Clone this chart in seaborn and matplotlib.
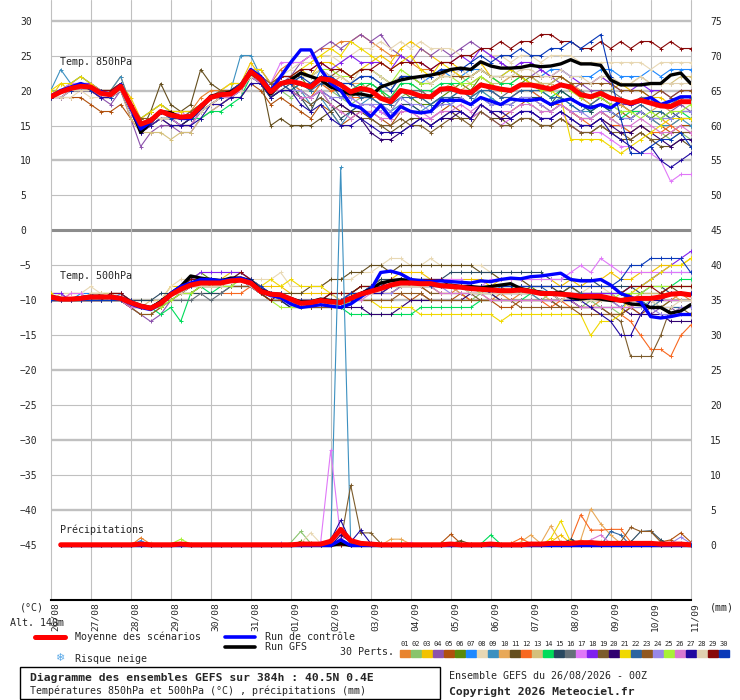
import numpy as np
import pandas as pd
import matplotlib
matplotlib.use("Agg")
import matplotlib.pyplot as plt
from matplotlib.patches import Rectangle
from matplotlib.lines import Line2D
import seaborn as sns

hours_t = list(range(0, 385, 6))   # temperatures 0h..384h
hours_p = list(range(6, 385, 6))   # precipitation starts at +6h
day_hours = list(range(0, 385, 24))
day_labels = ["26/08", "27/08", "28/08", "29/08", "30/08", "31/08", "01/09", "02/09", "03/09",
              "04/09", "05/09", "06/09", "07/09", "08/09", "09/09", "10/09", "11/09"]

member_ids = ["%02d" % k for k in range(1, 31)]
member_colors = ["#e8832e", "#88c46c", "#f2c200", "#8c52ac", "#b0500c", "#5a8a0a", "#1e88ff", "#e8d8b4",
                 "#3c90c0", "#e8a858", "#644e1e", "#f86820", "#d4c07c", "#00dc5a", "#284860", "#647078",
                 "#e078f8", "#8020f0", "#7c5c2c", "#300070", "#f0d800", "#2c64a0", "#905820", "#9888e8",
                 "#a8f038", "#d878d0", "#2008a0", "#e0d0b0", "#880808", "#0838b8"]

# 850 hPa (degC)
t850_mean = [19.1, 19.8, 20.3, 20.6, 20.5, 19.6, 19.4, 20.6, 17.9, 15.2, 15.7, 17.0, 16.5, 16.2, 16.3, 17.7,
             19.0, 19.4, 19.5, 20.5, 22.7, 21.6, 19.8, 21.0, 21.3, 21.0, 20.5, 21.7, 21.5, 20.8, 19.8, 20.3,
             20.0, 18.9, 18.4, 20.0, 19.7, 19.2, 19.1, 20.2, 20.3, 19.8, 19.7, 20.8, 20.5, 20.2, 20.0, 20.8,
             20.8, 20.5, 20.2, 20.8, 20.5, 19.4, 19.1, 19.6, 18.9, 18.6, 18.2, 18.6, 18.2, 17.8, 17.7, 18.4, 18.4]
t850_ctrl = [19.2, 20.0, 20.5, 21.0, 20.5, 19.8, 19.5, 20.8, 17.5, 14.5, 15.5, 17.0, 16.5, 16.0, 16.0, 17.5,
             19.0, 19.5, 19.5, 20.5, 23.0, 22.0, 20.0, 22.0, 24.0, 25.8, 25.8, 23.0, 21.0, 20.0, 18.0, 17.5,
             16.3, 17.9, 16.1, 17.7, 17.0, 16.8, 17.0, 18.6, 18.6, 18.6, 18.0, 19.0, 18.5, 18.0, 18.8, 18.6,
             18.6, 18.8, 18.0, 18.5, 18.8, 18.0, 17.5, 18.0, 17.5, 18.5, 18.0, 18.5, 19.0, 18.0, 18.5, 19.1, 19.1]
t850_gfs = [19.0, 19.8, 20.3, 20.8, 20.5, 19.6, 19.4, 20.6, 17.8, 14.0, 15.5, 17.0, 16.8, 16.2, 16.0, 17.5,
            19.2, 19.5, 19.8, 20.5, 22.5, 21.5, 19.5, 21.0, 21.5, 22.5, 22.0, 21.5, 20.5, 20.0, 19.5, 19.5,
            19.2, 20.5, 21.0, 21.5, 21.8, 22.0, 22.2, 22.5, 23.0, 23.2, 23.0, 24.1, 23.5, 23.2, 23.2, 23.3,
            23.6, 23.4, 23.5, 23.8, 24.4, 23.8, 23.8, 23.6, 21.5, 20.8, 20.8, 20.8, 21.0, 21.0, 22.2, 22.5, 21.0]
t850_members = [
    [19,20,21,21,21,20,20,22, 18,15,16,17,17,17,17,19, 20,20,21,21,23,22,21,23, 24,24,25,26,26,27,27,28, 27,26,25,25,24,23,23,22, 23,22,22,23,22,21,22,22, 21,20,21,22,21,20,19,19, 18,18,17,17,16,16,15,16, 16],
    [20,20,21,22,21,20,19,20, 17,14,15,16,16,15,16,17, 18,19,20,20,22,21,19,20, 19,20,19,21,20,19,18,19, 19,18,17,19,20,19,18,19, 19,20,19,20,19,18,18,19, 18,17,17,18,17,16,16,17, 16,15,14,15,14,14,13,14, 13],
    [19,21,20,21,21,20,20,21, 19,16,17,18,17,17,17,18, 19,20,20,21,24,22,21,22, 22,23,22,24,24,23,22,23, 24,25,24,26,27,26,25,24, 24,23,23,24,22,21,21,22, 21,21,20,21,20,19,19,20, 20,21,20,20,19,19,18,19, 19],
    [19,19,20,20,20,19,18,20, 16,12,14,15,15,14,14,16, 17,18,19,20,22,21,19,21, 22,24,25,26,27,26,27,28, 27,28,26,25,24,26,25,26, 25,26,27,26,25,24,23,22, 22,23,22,21,20,21,20,20, 19,18,18,19,19,18,17,18, 17],
    [19,19,19,19,18,17,17,18, 16,14,15,16,15,15,15,17, 18,18,19,19,21,20,18,19, 18,17,16,18,17,15,16,17, 17,16,15,17,17,16,16,17, 18,17,16,18,17,16,17,18, 19,18,17,18,17,16,16,17, 16,17,16,17,16,15,14,15, 15],
    [19,20,20,20,20,20,19,20, 17,15,16,17,16,16,16,17, 19,19,20,20,22,22,20,21, 21,22,20,22,21,20,19,20, 21,20,18,20,19,18,18,19, 20,21,20,22,21,20,20,21, 22,21,21,22,21,19,18,19, 18,18,17,17,16,17,16,17, 17],
    [19,20,21,21,21,20,20,21, 18,15,16,17,17,16,17,18, 19,20,20,21,23,22,20,22, 22,21,20,23,22,21,21,22, 22,21,20,22,22,21,22,23, 22,22,23,23,22,22,23,22, 22,22,23,23,22,22,22,23, 23,22,22,22,23,22,23,23, 23],
    [19,19,19,20,19,19,19,20, 17,15,16,17,16,16,16,18, 19,20,21,21,23,23,21,22, 23,24,24,25,25,24,25,26, 26,27,26,27,26,27,26,26, 26,25,25,26,25,25,24,25, 25,24,25,25,25,24,24,24, 24,24,24,24,23,24,24,24, 24],
    [20,23,21,22,21,20,20,22, 18,16,17,18,17,17,17,18, 19,19,20,25,25,22,20,21, 21,20,18,19,17,15,17,18, 19,18,17,18,18,17,18,19, 18,19,18,20,19,18,19,20, 20,19,18,19,18,17,17,18, 17,16,16,17,16,15,15,16, 15],
    [19,20,20,21,20,20,20,21, 18,15,16,17,16,16,16,18, 19,19,20,20,23,22,20,21, 21,21,21,22,21,22,21,21, 20,20,19,21,21,20,19,20, 21,20,21,22,21,20,20,21, 21,21,20,21,20,19,18,19, 18,18,17,18,17,18,17,17, 17],
    [19,20,20,20,20,19,19,20, 17,14,17,21,18,17,18,23, 21,20,20,21,23,22,15,16, 15,15,15,16,17,18,17,17, 16,15,14,15,16,16,15,16, 17,16,16,17,16,16,15,16, 16,15,15,16,15,14,14,15, 14,13,13,14,13,12,12,13, 12],
    [19,20,20,21,20,19,19,21, 18,15,16,17,16,16,16,18, 19,19,20,20,22,22,20,21, 21,20,19,21,20,20,19,19, 19,19,18,20,20,19,19,20, 20,20,19,21,20,19,19,20, 20,19,18,18,17,16,15,16, 15,15,14,15,14,14,15,14, 14],
    [19,19,20,20,20,19,19,20, 16,14,14,14,13,14,14,16, 17,18,19,19,21,21,19,20, 20,21,21,22,22,22,21,22, 22,21,20,22,22,21,21,22, 22,22,21,22,21,21,22,22, 22,21,21,22,21,21,21,22, 21,21,21,22,21,21,21,22, 22],
    [19,20,20,20,20,19,19,20, 17,15,15,16,16,15,16,16, 17,17,18,19,22,21,19,20, 20,21,20,22,22,21,20,21, 21,20,19,21,21,20,20,21, 21,21,22,23,22,21,21,22, 21,20,19,20,19,18,17,18, 17,16,17,17,16,16,16,17, 16],
    [19,20,20,20,20,20,19,20, 17,14,15,16,16,15,16,17, 18,19,19,20,22,21,19,20, 21,19,17,20,18,16,17,18, 18,17,16,18,18,17,17,18, 19,19,18,19,18,18,18,19, 19,19,18,20,19,18,17,18, 17,16,16,17,16,16,17,16, 16],
    [19,20,20,21,20,20,19,21, 18,15,16,17,16,16,16,18, 19,19,20,20,22,22,21,21, 21,21,21,22,21,21,21,20, 20,19,19,20,20,20,19,20, 20,20,19,21,20,19,20,21, 21,20,20,21,20,20,19,20, 20,19,18,19,19,18,18,19, 19],
    [19,20,21,21,21,20,19,21, 18,15,16,17,16,17,16,18, 19,19,20,21,23,22,21,24, 24,24,25,23,22,21,19,18, 18,17,16,18,17,16,16,17, 17,17,16,17,16,15,16,17, 17,16,16,17,15,14,14,14, 13,12,12,11,11,10,7,8, 8],
    [19,20,20,21,21,20,20,21, 18,15,16,17,17,16,16,18, 19,20,20,21,23,23,21,22, 22,23,23,24,23,24,25,24, 24,24,23,25,24,24,23,24, 24,25,24,26,25,24,23,24, 24,23,22,23,22,21,21,22, 21,20,20,21,20,20,19,20, 20],
    [19,20,20,20,20,19,19,20, 17,14,15,16,16,15,15,17, 18,19,19,20,22,21,19,20, 20,19,18,19,18,17,17,16, 16,15,15,16,15,15,14,15, 16,16,15,17,16,15,15,16, 16,15,15,16,15,14,14,15, 14,14,13,14,13,13,14,14, 14],
    [19,20,20,20,20,20,19,20, 17,14,15,16,16,15,16,17, 18,19,20,20,22,22,20,21, 20,19,19,20,19,18,17,16, 14,13,13,14,15,16,15,16, 16,17,16,18,17,16,16,17, 17,16,16,17,16,15,15,16, 15,14,14,15,14,13,12,13, 13],
    [20,21,21,22,21,20,20,21, 18,16,17,18,17,17,17,18, 19,20,21,21,23,23,21,22, 22,23,24,25,26,25,27,26, 25,24,23,24,25,23,22,24, 23,22,22,23,22,22,23,22, 21,20,20,19,13,13,13,13, 12,11,12,13,14,15,16,16, 16],
    [19,20,20,21,20,20,19,21, 17,15,16,16,16,16,16,17, 19,19,20,20,22,22,20,21, 20,21,20,21,21,19,20,19, 19,18,18,19,19,19,18,19, 19,20,19,20,20,19,19,20, 20,20,19,19,18,17,18,19, 18,17,17,18,17,17,16,17, 17],
    [19,20,20,21,20,20,20,21, 18,16,16,17,17,16,17,18, 19,20,20,21,23,22,21,22, 22,22,22,23,22,23,22,23, 23,22,21,22,22,21,21,22, 22,22,22,23,22,22,22,22, 22,22,22,22,21,21,21,21, 21,20,20,20,19,20,19,20, 20],
    [19,20,20,20,20,19,19,20, 17,14,15,16,16,15,15,17, 18,19,19,20,22,21,20,20, 20,20,19,20,19,19,19,18, 18,18,17,19,18,18,17,18, 18,19,18,19,18,18,18,19, 19,18,17,18,17,17,16,17, 17,16,16,17,16,16,16,17, 17],
    [19,20,20,21,20,20,19,21, 17,15,15,16,16,16,16,17, 18,19,20,20,22,22,20,21, 21,22,22,23,23,22,22,23, 23,22,21,23,22,21,21,22, 22,21,21,22,21,20,20,21, 21,20,20,21,20,19,19,19, 18,17,17,16,17,16,17,17, 18],
    [19,19,20,20,20,19,19,20, 17,14,15,16,16,15,15,17, 18,19,19,20,22,21,20,20, 20,19,19,20,18,17,16,17, 17,16,16,17,17,17,16,17, 17,18,17,18,17,17,17,18, 18,17,17,18,17,16,16,17, 16,15,15,16,15,14,14,15, 14],
    [19,19,20,20,20,19,19,20, 17,14,15,16,15,15,15,16, 18,18,19,19,21,21,19,20, 20,18,17,18,16,15,15,16, 15,14,14,14,15,16,15,16, 17,17,16,18,17,17,16,17, 17,16,16,17,16,15,15,16, 14,13,12,11,12,10,9,10, 11],
    [19,19,20,20,20,20,19,20, 17,15,16,16,16,16,16,17, 18,19,20,20,22,22,20,21, 21,22,22,23,22,22,21,23, 23,22,21,22,22,22,21,22, 22,23,22,23,22,22,22,23, 23,22,22,23,22,22,21,22, 22,21,21,22,21,21,21,21, 21],
    [19,20,20,21,20,20,20,21, 18,15,16,17,17,16,16,18, 19,19,20,21,23,22,20,22, 22,23,23,24,23,23,22,23, 23,24,23,24,24,24,23,24, 24,25,25,26,26,27,26,27, 27,28,28,27,27,26,26,27, 26,27,26,27,27,26,27,26, 26],
    [19,20,20,21,20,20,19,21, 18,15,16,17,16,16,16,18, 19,19,20,21,23,22,20,21, 21,22,21,22,22,21,21,22, 22,21,20,22,22,22,22,23, 23,23,24,25,24,25,25,26, 25,25,26,26,27,26,27,28, 22,16,11,11,12,13,13,14, 12],
]

# 500 hPa (degC)
t500_mean = [-9.5, -9.8, -9.8, -9.7, -9.5, -9.5, -9.5, -9.7, -10.3, -10.8, -11.1, -10.4, -9.2, -8.4, -7.8, -7.5,
             -7.5, -7.5, -7.2, -7.1, -7.5, -8.7, -9.1, -9.2, -9.8, -10.4, -10.3, -10.0, -10.2, -10.3, -9.7, -9.1,
             -8.7, -8.3, -7.8, -7.5, -7.5, -7.6, -7.6, -7.9, -8.0, -8.1, -8.3, -8.4, -8.5, -8.6, -8.6, -8.5,
             -8.7, -9.0, -9.0, -9.1, -9.2, -9.4, -9.4, -9.4, -9.7, -10.0, -9.8, -9.7, -9.7, -9.5, -9.1, -9.0, -9.2]
t500_ctrl = [-9.5, -9.8, -9.8, -9.8, -9.5, -9.5, -9.6, -9.7, -10.5, -11.0, -11.3, -10.5, -9.0, -8.0, -7.5, -7.0,
             -7.0, -7.2, -7.0, -6.8, -7.3, -8.7, -9.3, -9.6, -10.5, -11.0, -10.8, -10.6, -10.8, -11.0, -10.5, -9.5,
             -8.5, -6.0, -5.8, -6.2, -7.0, -7.2, -7.3, -7.2, -7.3, -7.4, -7.5, -7.2, -7.3, -7.0, -6.8, -6.9,
             -6.6, -6.5, -6.3, -6.1, -7.0, -7.2, -7.2, -7.0, -7.8, -9.0, -9.5, -10.2, -12.3, -12.5, -12.3, -12.0, -12.0]
t500_gfs = [-9.4, -9.7, -9.8, -9.6, -9.4, -9.4, -9.5, -9.6, -10.2, -10.7, -11.0, -10.2, -9.0, -8.0, -6.5, -6.8,
            -7.0, -7.2, -6.8, -6.8, -7.2, -8.5, -9.0, -9.2, -9.7, -10.2, -10.2, -9.8, -10.0, -10.2, -9.6, -9.0,
            -8.4, -7.5, -7.2, -7.0, -7.2, -7.5, -7.6, -7.8, -7.8, -8.0, -8.0, -8.2, -8.0, -7.8, -7.6, -8.3,
            -8.6, -8.8, -9.0, -8.8, -9.6, -9.8, -9.6, -9.8, -10.0, -10.0, -10.5, -10.6, -11.0, -11.0, -11.8, -11.5, -10.6]
t500_members = [
    [-10,-10,-9,-9,-10,-10,-9,-9, -10,-11,-11,-10,-9,-8,-8,-7, -8,-8,-7,-7,-8,-9,-9,-9, -10,-10,-11,-10,-10,-11,-10,-9, -9,-8,-8,-7,-8,-8,-8,-9, -9,-8,-9,-9,-10,-9,-10,-9, -9,-10,-10,-10,-10,-11,-11,-10, -10,-11,-11,-10,-11,-10,-10,-9, -10],
    [-9,-10,-10,-10,-9,-10,-10,-10, -11,-12,-12,-11,-10,-9,-9,-8, -8,-8,-8,-7,-8,-9,-10,-10, -11,-11,-11,-10,-11,-11,-10,-9, -9,-9,-8,-8,-8,-8,-8,-9, -9,-9,-10,-9,-9,-10,-10,-10, -10,-10,-9,-10,-10,-11,-10,-11, -11,-12,-11,-11,-10,-11,-10,-10, -10],
    [-9,-9,-9,-9,-9,-9,-9,-9, -10,-10,-10,-10,-8,-8,-7,-7, -7,-7,-6,-6,-7,-8,-8,-8, -9,-9,-9,-9,-9,-10,-9,-8, -8,-7,-7,-6,-6,-6,-7,-7, -7,-7,-7,-7,-8,-7,-7,-7, -7,-7,-7,-8,-7,-8,-7,-7, -6,-7,-7,-6,-6,-5,-5,-5, -4],
    [-10,-10,-10,-10,-10,-10,-9,-10, -11,-12,-13,-12,-10,-9,-8,-7, -7,-7,-7,-7,-8,-9,-9,-10, -10,-11,-11,-10,-11,-11,-10,-9, -8,-8,-7,-7,-7,-8,-8,-8, -8,-9,-9,-9,-9,-9,-9,-8, -9,-9,-9,-10,-9,-10,-10,-10, -10,-11,-11,-12,-12,-11,-11,-12, -12],
    [-10,-10,-10,-10,-10,-9,-10,-10, -10,-11,-11,-11,-9,-9,-8,-8, -8,-8,-7,-7,-8,-9,-9,-9, -10,-10,-10,-10,-10,-10,-9,-9, -9,-9,-9,-9,-10,-9,-10,-10, -10,-9,-10,-10,-10,-11,-11,-10, -10,-10,-10,-11,-11,-11,-11,-11, -12,-12,-11,-12,-11,-11,-12,-11, -11],
    [-10,-10,-10,-10,-9,-9,-9,-10, -10,-11,-11,-10,-9,-8,-7,-6, -7,-7,-7,-7,-7,-8,-9,-9, -10,-10,-10,-10,-10,-10,-9,-8, -8,-8,-7,-7,-7,-7,-7,-8, -8,-8,-8,-8,-8,-8,-8,-9, -8,-9,-9,-9,-8,-9,-9,-9, -9,-9,-10,-9,-9,-9,-8,-8, -8],
    [-9,-9,-10,-9,-9,-10,-10,-9, -10,-11,-11,-10,-9,-8,-8,-7, -7,-7,-7,-6,-7,-8,-9,-9, -10,-10,-10,-10,-10,-11,-10,-9, -8,-8,-7,-7,-7,-7,-8,-8, -8,-8,-8,-8,-9,-8,-8,-8, -8,-8,-8,-9,-8,-9,-9,-9, -9,-9,-8,-8,-7,-6,-6,-6, -6],
    [-9,-9,-9,-9,-8,-9,-9,-9, -10,-10,-10,-10,-8,-7,-7,-6, -6,-6,-6,-6,-7,-7,-7,-6, -8,-8,-8,-8,-7,-7,-7,-6, -6,-5,-4,-4,-5,-5,-4,-5, -5,-5,-5,-5,-6,-7,-7,-7, -8,-8,-8,-8,-8,-9,-8,-8, -9,-9,-9,-8,-8,-8,-8,-8, -8],
    [-10,-10,-10,-10,-10,-10,-10,-10, -11,-11,-11,-10,-9,-9,-8,-8, -8,-8,-7,-7,-8,-9,-9,-10, -10,-11,-11,-11,-11,-11,-10,-9, -9,-8,-8,-7,-7,-8,-8,-8, -8,-8,-9,-9,-9,-9,-9,-9, -9,-10,-10,-10,-10,-11,-11,-11, -11,-11,-10,-10,-11,-10,-10,-10, -10],
    [-10,-9,-10,-10,-10,-10,-9,-10, -10,-11,-11,-11,-9,-9,-8,-8, -8,-7,-7,-7,-8,-9,-9,-9, -10,-10,-10,-10,-10,-10,-9,-9, -9,-9,-8,-8,-8,-8,-8,-8, -8,-9,-9,-9,-8,-9,-9,-9, -9,-9,-10,-10,-9,-10,-10,-10, -10,-10,-11,-10,-10,-9,-9,-10, -10],
    [-10,-10,-10,-10,-10,-10,-10,-10, -11,-11,-11,-10,-9,-8,-8,-7, -7,-7,-7,-7,-7,-8,-9,-9, -9,-9,-8,-8,-7,-7,-6,-6, -5,-5,-6,-5,-5,-5,-5,-5, -5,-5,-5,-6,-6,-7,-7,-7, -8,-8,-8,-9,-8,-9,-9,-9, -9,-10,-9,-9,-9,-9,-8,-9, -9],
    [-10,-10,-10,-10,-10,-10,-10,-10, -11,-11,-11,-11,-9,-9,-9,-9, -9,-9,-9,-9,-8,-9,-9,-10, -10,-11,-11,-10,-10,-10,-10,-9, -9,-9,-9,-8,-8,-8,-9,-9, -9,-9,-10,-10,-10,-10,-10,-10, -10,-10,-11,-10,-11,-11,-11,-12, -12,-12,-13,-15,-17,-17,-18,-15, -13.5],
    [-9,-10,-10,-10,-9,-9,-9,-9, -10,-11,-10,-10,-9,-8,-8,-8, -8,-8,-7,-7,-8,-9,-9,-9, -10,-10,-10,-10,-9,-10,-9,-9, -8,-8,-8,-7,-7,-7,-7,-8, -8,-8,-8,-8,-8,-8,-9,-9, -9,-9,-9,-9,-9,-10,-9,-9, -9,-10,-10,-9,-9,-9,-8,-8, -8],
    [-10,-10,-10,-10,-10,-10,-10,-10, -10,-11,-11,-12,-11,-13,-9,-8, -9,-8,-8,-8,-8,-9,-10,-10, -11,-11,-11,-11,-11,-11,-12,-12, -12,-12,-12,-12,-12,-11,-11,-11, -11,-11,-11,-10,-10,-10,-10,-10, -9,-9,-9,-9,-9,-10,-9,-9, -9,-9,-8,-8,-8,-8,-8,-7, -7],
    [-10,-10,-10,-10,-10,-10,-10,-10, -10,-10,-10,-9,-9,-9,-9,-9, -9,-9,-8,-8,-8,-8,-9,-9, -10,-10,-10,-10,-9,-9,-9,-8, -8,-7,-7,-7,-7,-7,-7,-7, -6,-6,-6,-6,-6,-6,-6,-6, -6,-6,-7,-7,-7,-7,-7,-8, -8,-8,-8,-9,-8,-8,-9,-9, -9],
    [-10,-10,-10,-10,-10,-10,-10,-10, -10,-11,-11,-10,-10,-10,-10,-9, -10,-9,-8,-8,-8,-9,-9,-9, -10,-10,-10,-10,-10,-10,-9,-9, -9,-8,-8,-8,-8,-8,-8,-8, -8,-8,-8,-8,-8,-8,-9,-9, -9,-9,-9,-9,-9,-9,-9,-10, -10,-10,-10,-10,-10,-10,-10,-10, -10],
    [-10,-10,-9,-9,-10,-10,-10,-10, -10,-11,-11,-10,-9,-8,-7,-7, -7,-7,-7,-7,-7,-8,-9,-9, -10,-10,-10,-10,-10,-10,-9,-9, -8,-8,-8,-7,-7,-8,-8,-7, -7,-7,-8,-8,-7,-7,-7,-7, -7,-7,-7,-7,-6,-5,-6,-4, -5,-6,-6,-6,-6,-6,-6,-6, -6],
    [-9,-9,-10,-10,-10,-10,-9,-9, -10,-11,-11,-10,-9,-8,-7,-6, -6,-6,-6,-6,-7,-8,-9,-9, -10,-10,-10,-10,-10,-10,-9,-9, -8,-8,-7,-7,-7,-7,-7,-7, -8,-8,-8,-8,-8,-9,-9,-9, -9,-9,-9,-9,-9,-9,-9,-9, -9,-9,-8,-8,-7,-6,-5,-4, -3],
    [-10,-10,-10,-10,-10,-10,-10,-10, -10,-11,-11,-11,-9,-9,-8,-8, -8,-8,-7,-7,-8,-9,-9,-9, -10,-10,-10,-10,-10,-10,-10,-9, -9,-9,-9,-8,-8,-8,-9,-9, -9,-9,-9,-10,-10,-10,-10,-10, -10,-10,-10,-11,-11,-11,-11,-11, -12,-13,-18,-18,-18,-15,-11,-11, -12],
    [-10,-10,-10,-10,-10,-10,-10,-10, -11,-11,-11,-10,-9,-9,-8,-8, -8,-8,-8,-8,-8,-9,-10,-10, -11,-11,-11,-11,-11,-11,-11,-11, -12,-12,-12,-11,-10,-10,-10,-10, -10,-10,-9,-9,-9,-10,-10,-10, -10,-10,-10,-10,-10,-11,-11,-11, -11,-11,-12,-12,-12,-12,-13,-13, -13],
    [-9,-10,-10,-10,-10,-10,-10,-10, -10,-11,-11,-10,-9,-8,-8,-8, -8,-8,-7,-7,-7,-8,-7,-8, -7,-8,-8,-8,-9,-9,-9,-10, -10,-11,-11,-11,-11,-12,-12,-12, -12,-12,-12,-12,-12,-13,-12,-12, -12,-12,-12,-12,-12,-12,-15,-13, -13,-12,-9,-8,-7,-6,-5,-5, -4],
    [-10,-10,-10,-10,-10,-10,-9,-9, -10,-11,-11,-10,-9,-8,-7,-7, -7,-7,-7,-7,-8,-9,-9,-9, -10,-10,-10,-10,-10,-10,-10,-9, -8,-8,-8,-7,-7,-7,-7,-8, -8,-8,-8,-8,-8,-8,-8,-8, -8,-8,-9,-9,-9,-9,-10,-10, -10,-10,-10,-10,-11,-11,-11,-11, -11],
    [-10,-10,-10,-10,-10,-10,-10,-10, -11,-12,-12,-11,-10,-9,-9,-8, -8,-8,-8,-8,-8,-9,-10,-10, -10,-10,-11,-11,-11,-11,-10,-10, -10,-10,-10,-9,-9,-9,-10,-10, -10,-10,-10,-10,-10,-10,-10,-11, -11,-11,-11,-11,-11,-12,-12,-12, -12,-12,-11,-11,-11,-11,-10,-10, -10],
    [-10,-10,-10,-10,-10,-10,-10,-10, -10,-11,-11,-10,-9,-8,-8,-7, -7,-7,-7,-7,-8,-9,-9,-9, -10,-10,-10,-10,-10,-10,-10,-9, -9,-9,-9,-8,-8,-8,-8,-8, -9,-9,-9,-9,-9,-9,-9,-9, -9,-9,-9,-9,-10,-10,-10,-10, -10,-11,-11,-11,-11,-12,-12,-11, -11],
    [-10,-10,-10,-10,-10,-10,-10,-10, -10,-11,-11,-11,-10,-9,-9,-8, -8,-8,-8,-7,-8,-9,-10,-11, -11,-11,-10,-10,-10,-11,-10,-9, -9,-8,-8,-8,-8,-8,-8,-8, -8,-8,-8,-9,-9,-9,-9,-9, -9,-9,-9,-10,-10,-10,-10,-10, -10,-9,-9,-9,-8,-8,-8,-8, -8],
    [-10,-10,-10,-10,-10,-10,-10,-10, -11,-11,-11,-10,-9,-8,-8,-7, -7,-7,-7,-7,-8,-9,-9,-9, -10,-10,-10,-10,-10,-10,-10,-10, -9,-9,-8,-8,-8,-8,-8,-9, -9,-9,-9,-9,-10,-10,-10,-10, -10,-10,-10,-10,-10,-11,-11,-11, -11,-11,-11,-10,-10,-10,-10,-10, -10],
    [-10,-10,-10,-10,-10,-10,-10,-10, -10,-11,-11,-10,-9,-8,-8,-7, -7,-7,-7,-7,-8,-9,-9,-9, -10,-10,-10,-10,-10,-10,-10,-9, -9,-9,-8,-8,-8,-8,-8,-8, -8,-8,-8,-8,-9,-9,-9,-9, -9,-9,-9,-10,-10,-10,-11,-12, -13,-15,-15,-12,-10,-10,-9,-9, -9],
    [-10,-10,-10,-10,-9,-9,-10,-10, -10,-11,-11,-10,-9,-9,-8,-8, -8,-8,-7,-7,-8,-9,-9,-9, -10,-10,-10,-10,-10,-10,-9,-9, -9,-8,-8,-8,-8,-8,-8,-8, -8,-8,-9,-9,-9,-9,-9,-9, -9,-9,-9,-10,-9,-10,-10,-10, -10,-10,-10,-10,-10,-11,-11,-10, -10],
    [-10,-10,-10,-10,-10,-10,-9,-9, -10,-11,-11,-10,-9,-8,-7,-7, -7,-7,-7,-6,-7,-9,-10,-9, -10,-10,-10,-10,-9,-9,-9,-8, -8,-8,-7,-7,-7,-7,-7,-7, -8,-8,-8,-8,-8,-8,-8,-8, -8,-8,-8,-8,-8,-8,-8,-8, -8,-9,-8,-8,-8,-9,-8,-8, -8],
    [-10,-10,-10,-10,-10,-10,-10,-10, -10,-11,-11,-10,-9,-8,-8,-7, -7,-7,-7,-7,-7,-8,-9,-9, -10,-10,-10,-10,-10,-10,-9,-9, -8,-8,-8,-7,-7,-7,-8,-8, -8,-8,-8,-8,-8,-8,-8,-8, -8,-8,-8,-8,-8,-8,-8,-8, -8,-7,-5,-5,-4,-4,-4,-4, -6],
]

# precipitation (mm), +6h .. +384h
rain_mean = [0.1,0.1,0.1,0.1,0.1,0.1,0.1,0.1,0.2,0.1,0.1,0.1,0.2,0.1,0.1,0.1] + \
            [0.1,0.1,0.1,0.1,0.1,0.1,0.1,0.1,0.2,0.2,0.2,0.6,2.3,0.7,0.3,0.2] + \
            [0.1,0.1,0.1,0.1,0.1,0.1,0.1,0.2,0.1,0.1,0.1,0.2,0.1,0.1,0.1,0.2] + \
            [0.2,0.3,0.3,0.3,0.4,0.4,0.3,0.3,0.3,0.3,0.3,0.3,0.2,0.2,0.2,0.1]
rain_ctrl = [0,0,0,0,0,0,0,0,0,0,0,0,0,0,0,0] + [0,0,0,0,0,0,0,0,0,0,0,0,0.8,0,0,0] + \
            [0,0,0,0,0,0,0,0,0,0,0,0,0,0,0,0] + [0,0,0,0,0,0,0,0,0,0,0,0,0,0,0,0]
rain_gfs = [0,0,0,0,0,0,0,0,0,0,0,0,0,0,0,0] + [0,0,0,0,0,0,0,0,0,0,0,0,0.3,0,0,0] + \
           [0,0,0,0,0,0,0,0,0,0,0,0,0,0,0,0] + [0,0,0,0,0,0,0,0,0,0,0,0,0,0,0,0]
dry = [0, 0, 0, 0, 0, 0, 0, 0, 0, 0, 0, 0, 0, 0, 0, 0]
rain_members = [
    [0,0,0,0,0,0,0,0,1.1,0.2,0,0,0,0,0,0] + [0,0,0,0,0,0,0,0,0,0.3,0,0.5,0.3,0,0,0] + dry + [0,0,0,0.3,0,0,0,0,0,0.4,0,0.5,0,0,0,0],
    dry + [0,0,0,0,0,0,0,0.4,2.0,0.3,0,0,0,0,0,0] + dry + [0,0,0,0,0,0,0,0,0.5,0,0,0,0,0,0,0],
    dry + dry + dry + [0,0.5,1.5,0.3,0,0,0,0,0,0,0,0,0,0,0,0],
    dry + [0,0,0,0,0,0,0,0.2,0,0,0,0,0,0,0,0] + dry + [0,0,0,0,0,0,0,0,0,0,0,0,0,0,0.3,0],
    dry + dry + [0,0,0,0,0,0,0.3,1.6,0.3,0,0,0,0,0,0,0] + [0,0,0,0,0,0,0,0,0,0,0,0,0.5,0.8,1.8,0.5],
    dry + [0,0,0,0,0,0,0,0,0.6,0.2,0,0,0,0,0,0] + dry + dry,
    [0,0,0,0,0,0,0,0,0.7,0,0,0,0,0,0,0] + dry + dry + dry,
    dry + [0,0,0,0,0,0,0,0,0.3,1.8,0.3,0,0,0,0,0] + dry + dry,
    dry + [0,0,0,0,0,0,0,0,0,0,0,0.3,54.0,0.3,0,0] + dry + dry,
    dry + dry + [0,0.9,0.9,0.2,0,0,0,0,0,0,0,0,0,0,0.5,1.5] + [0.3,2.8,0.5,0,0.8,5.2,3.1,1.5,0.3,0,0,0,0,0,0,0],
    dry + [0,0,0,0,0,0,0,0,0,0,0,0,0,0,0.3,0] + [0,0,0,0,0,0,0,0.2,0.7,0.2,0,0,0,0,0,0] + dry,
    dry + dry + [0,0,0,0,0,0,0,0,0,0,0,0,0,0.3,1.0,0.3] + [0,0,0,0.8,4.4,2.2,2.2,2.3,2.3,0.5,0,0,0,0,0,0],
    dry + dry + dry + [0,0,0,0.6,0,0,0,0,0,0,0,0,0,0,0,0],
    dry + dry + [0,0,0.3,0,0,0,0,0,0,0,0.2,1.5,0.2,0,0,0] + dry,
    dry + dry + dry + [0,0,0.2,0.9,0.2,0,0,0,0,0.5,2.0,2.1,0.8,0,0,0],
    dry + dry + dry + [0,0,0,0,0,0,0,0,0,0,0,0.3,0,0,0,0],
    dry + [0,0,0,0,0,0,0,0,0,0,0.5,13.6,1.0,0,0,0] + [0,0,0,0.4,0,0,0,0,0,0,0,0,0,0,0,0] + dry,
    dry + dry + dry + [0,0,0,0,0,0,0.5,0,0,0,0,0,0,0,0,0],
    dry + [0,0,0,0,0,0,0,0,0,0,0,0,0.5,8.6,1.8,1.8] + [0.3,0,0,0,0,0,0,0,0,0,0,0,0,0,0,0] + dry,
    dry + [0,0,0,0,0,0,0,0,0,0,0,0,1.5,0.5,0,0] + dry + dry,
    dry + dry + dry + [0,1.0,3.5,0.5,0,0,0,0,0,0,0,0,0,0,0,0],
    dry + dry + dry + [0,0,0,0,0,0,0,2.0,1.5,0,0,0,0,0,0,0],
    dry + dry + dry + [0,0,0,0,0,0,0,0,0.5,2.6,2.0,2.0,0.5,0,0,0],
    dry + [0,0,0,0,0,0,0.3,0,0,0,0,0,0,0,0,0] + dry + [0,0,0,0,0,0,0,0,0,0,0,0,0,0.3,1.2,0.3],
    [0,0,0,0,0,0,0,0,0,0,0,0.2,0.9,0.2,0,0] + dry + dry + dry,
    dry + dry + dry + [0,0,0,0,0,0.8,1.5,0.3,0,0,0,0,0,0,0,0],
    dry + [0,0,0,0,0,0,0,0,0,0,0,0.8,3.6,0.5,2.2,0.3] + dry + dry,
    [0,0,0,0,0,0,0,0,0,0.4,0,0,0,0,0,0] + dry + dry + [0,0,0,0,0,0,0.6,0,0,0,0,0,0,0,0,0],
    dry + dry + dry + [0,0,0,0,0,0,0,0,0,0,0.4,0,0,0,0,0],
    dry + [0,0,0,0,0,0,0,0,0,0,0,0,0.8,0,0,0] + dry + [0,0,0,0,0,0,0,0,0,0,0,0.3,0,0,0,0],
]

for s in t850_members + t500_members:
    assert len(s) == len(hours_t)
for s in rain_members:
    assert len(s) == len(hours_p)


def long_frame(series, hours):
    parts = [pd.DataFrame({"hour": hours, "value": v, "member": member_ids[k]}) for k, v in enumerate(series)]
    return pd.concat(parts, ignore_index=True)


def px(x, y):
    # pixel position (from top-left) -> figure fraction
    return x / 740, 1 - y / 700


sns.set_style("white")
plt.rcParams["font.family"] = ["DejaVu Sans Mono", "DejaVu Sans"]

fig = plt.figure(figsize=(7.4, 7.0), dpi=100)
ax = fig.add_axes([50.7 / 740, 100 / 700, 640 / 740, 600 / 700])
ax2 = ax.twinx()

pal = dict(zip(member_ids, member_colors))
thin = dict(hue="member", palette=pal, estimator=None, sort=False, legend=False,
            lw=0.8, marker="+", ms=3.5, mew=0.7, mec="auto")

# members, then GFS / control / mean on top
sns.lineplot(data=long_frame(t850_members, hours_t), x="hour", y="value", ax=ax, **thin)
sns.lineplot(data=long_frame(t500_members, hours_t), x="hour", y="value", ax=ax, **thin)
sns.lineplot(data=long_frame(rain_members, hours_p), x="hour", y="value", ax=ax2, **thin)
for target, hrs, series, col, w in [(ax, hours_t, t850_gfs, "black", 2.4), (ax, hours_t, t500_gfs, "black", 2.4),
                                    (ax2, hours_p, rain_gfs, "black", 2.4),
                                    (ax, hours_t, t850_ctrl, "#0000ff", 2.4), (ax, hours_t, t500_ctrl, "#0000ff", 2.4),
                                    (ax2, hours_p, rain_ctrl, "#0000ff", 2.4),
                                    (ax, hours_t, t850_mean, "#ff0000", 3.6), (ax, hours_t, t500_mean, "#ff0000", 3.6),
                                    (ax2, hours_p, rain_mean, "#ff0000", 3.6)]:
    sns.lineplot(x=hrs, y=series, color=col, lw=w, estimator=None, sort=False, ax=target)

y_lo, y_hi = -52.79, 32.93
ax.set_xlim(0, 384)
ax.set_ylim(y_lo, y_hi)
ax2.set_ylim(y_lo + 45, y_hi + 45)
ax.set_xlabel("")
ax.set_ylabel("")
ax2.set_ylabel("")

# grid: thin every 5, thick every 10, dark line at 0
for yv in [25, 15, 5, -5, -15, -25, -35]:
    ax.axhline(yv, color="#c0c0c0", lw=0.8, zorder=0)
for yv in [30, 20, 10, -10, -20, -30, -40]:
    ax.axhline(yv, color="#c0c0c0", lw=1.7, zorder=0)
ax.axhline(0, color="#8c8c8c", lw=2.2, zorder=0)
for h in day_hours:
    ax.axvline(h, color="#c0c0c0", lw=0.8, zorder=0, clip_on=False)

for sp in ["top", "left", "right"]:
    ax.spines[sp].set_visible(False)
ax.spines["bottom"].set_color("black")
ax.spines["bottom"].set_linewidth(1.5)
for sp in ax2.spines.values():
    sp.set_visible(False)

ax.set_yticks(list(range(-45, 31, 5)))
ax.tick_params(axis="y", length=0, pad=22.1, labelsize=7)
for lab in ax.get_yticklabels():
    lab.set_ha("left")
ax2.set_yticks(list(range(0, 76, 5)))
ax2.tick_params(axis="y", length=0, pad=13.9, labelsize=7)
ax.set_xticks(day_hours)
ax.set_xticklabels(day_labels, rotation=90, ha="left", va="top", fontsize=6.8)
ax.tick_params(axis="x", length=0, pad=1.5)

# annotations
fs = 7.2
fig.text(*px(60, 62), "Temp. 850hPa", fontsize=fs, va="center")
fig.text(*px(60, 276), "Temp. 500hPa", fontsize=fs, va="center")
fig.text(*px(60, 530), "Précipitations", fontsize=fs, va="center")
fig.text(*px(20, 607), "(°C)", fontsize=fs, va="center")
fig.text(*px(710, 607), "(mm)", fontsize=fs, va="center")
fig.text(*px(10, 623), "Alt. 140m", fontsize=fs, va="center")

# legend
for (x0, y0, col, w) in [(35, 637, "#ff0000", 3.6), (225, 637, "#0000ff", 2.6), (225, 647, "black", 2.6)]:
    fig.add_artist(Line2D([x0 / 740, (x0 + 30) / 740], [1 - y0 / 700] * 2, color=col, lw=w,
                          transform=fig.transFigure))
fig.text(*px(75, 637), "Moyenne des scénarios", fontsize=fs, va="center")
fig.text(*px(265, 637), "Run de contrôle", fontsize=fs, va="center")
fig.text(*px(265, 647), "Run GFS", fontsize=fs, va="center")
fig.text(*px(60, 658), "\u2744", fontsize=8, color="#58a8e8", ha="center", va="center", family="DejaVu Sans")
fig.text(*px(75, 659), "Risque neige", fontsize=fs, va="center")
fig.text(*px(340, 652), "30 Perts.", fontsize=fs, va="center")
for k, (mid, col) in enumerate(zip(member_ids, member_colors)):
    x0 = 400 + 11 * k
    fig.add_artist(Rectangle(px(x0, 657), 10 / 740, 7 / 700, color=col, transform=fig.transFigure))
    fig.text(*px(x0 + 5, 644), mid, fontsize=5, ha="center", va="center")

# bottom boxes
fig.add_artist(Rectangle(px(20, 699), 420 / 740, 32 / 700, fill=False, ec="black", lw=1,
                         transform=fig.transFigure))
fig.text(*px(30, 678), "Diagramme des ensembles GEFS sur 384h : 40.5N 0.4E", fontsize=8.2,
         fontweight="bold", va="center")
fig.text(*px(30, 691), "Températures 850hPa et 500hPa (°C) , précipitations (mm)", fontsize=fs, va="center")
fig.text(*px(449, 676), "Ensemble GEFS du 26/08/2026 - 00Z", fontsize=fs, va="center")
fig.text(*px(449, 692), "Copyright 2026 Meteociel.fr", fontsize=8.2, fontweight="bold", va="center")

fig.savefig("out.png", dpi=100, facecolor="white")
